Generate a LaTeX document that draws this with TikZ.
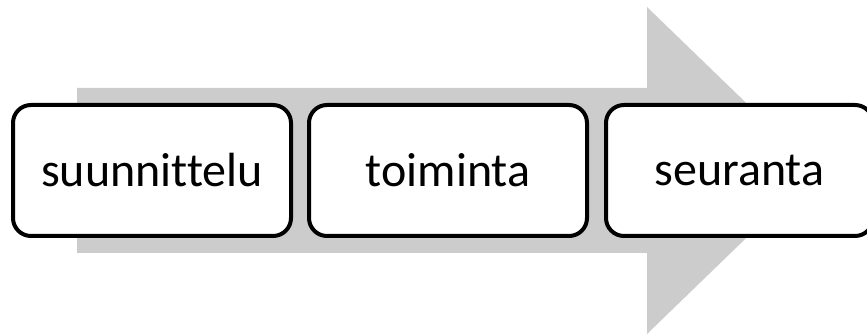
\documentclass[tikz,border=0pt]{standalone}
\usepackage{fontspec}
\setmainfont{Carlito}[Ligatures=NoCommon]
\usepackage{tikz}
\usetikzlibrary{positioning}
\definecolor{arrowgray}{RGB}{204,204,204}

\begin{document}
\begin{tikzpicture}[
      x=1pt, y=1pt,
      phase/.style={draw, line width=4pt, rounded corners=18pt, fill=white, minimum width=278pt, minimum height=131pt, font=\fontsize{48}{56}\selectfont, inner sep=0pt},
      node distance=14pt
    ]
    \useasboundingbox (0,0) rectangle (867,334);
    % gray background arrow
    \fill[arrowgray] (77,81) -- (647,81) -- (647,0) -- (816,163.5) -- (647,327) -- (647,246) -- (77,246) -- cycle;

    \node[phase] (plan) at (152,163.5) {suunnittelu};
    \node[phase, right=of plan] (action) {toiminta};
    \node[phase, right=15pt of action, minimum width=267pt] (review) {seuranta};
  \end{tikzpicture}
\end{document}
